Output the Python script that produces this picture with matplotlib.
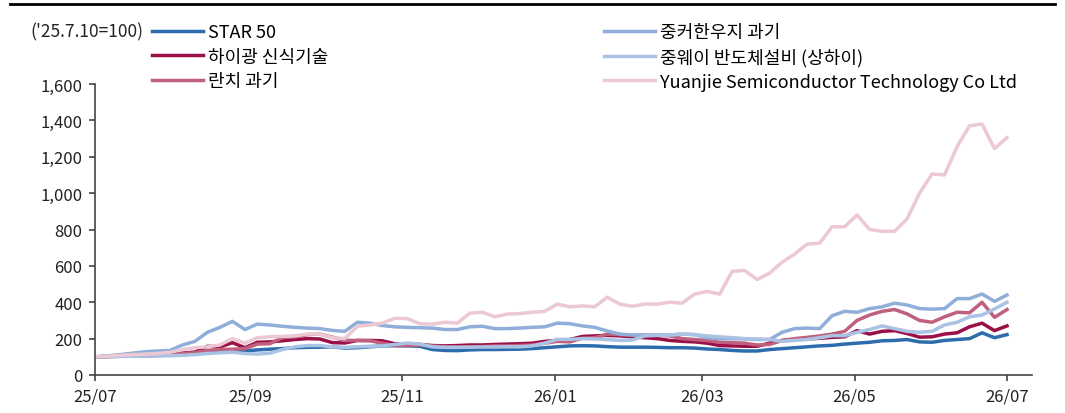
import numpy as np
import matplotlib
matplotlib.use('Agg')
import matplotlib.pyplot as plt
import matplotlib.dates as mdates
from matplotlib.lines import Line2D

plt.rcParams['font.family'] = ['Noto Sans CJK KR', 'DejaVu Sans']

# 5-day sampling from 2025-07-10 (=100) to 2026-07-10
dates = np.arange(np.datetime64('2025-07-10'), np.datetime64('2026-07-11'), np.timedelta64(5, 'D'))

star50 = [100, 102, 104, 106, 108, 112, 115, 118, 120, 122, 128, 130, 132, 138, 142, 145, 150, 152, 153, 155,
          148, 150, 155, 160, 161, 160, 158, 140, 135, 134, 138, 140, 140, 141, 142, 145, 150, 155, 160, 161,
          160, 156, 153, 153, 153, 152, 150, 150, 148, 143, 140, 135, 132, 132, 140, 145, 150, 155, 160, 163,
          170, 175, 180, 188, 190, 195, 182, 180, 190, 195, 200, 232, 205, 222]
haiguang = [100, 102, 104, 105, 106, 108, 110, 120, 126, 158, 154, 178, 150, 180, 182, 188, 195, 200, 198, 178,
            176, 190, 190, 188, 172, 170, 168, 162, 160, 162, 165, 165, 168, 170, 172, 175, 185, 190, 195, 212,
            215, 218, 215, 210, 205, 200, 190, 185, 182, 175, 162, 160, 158, 158, 175, 190, 195, 198, 202, 207,
            210, 244, 225, 240, 244, 228, 208, 210, 225, 232, 265, 285, 244, 270]
lanqi = [100, 101, 103, 104, 105, 107, 110, 118, 122, 135, 140, 142, 145, 170, 172, 205, 210, 222, 225, 208,
         190, 190, 188, 175, 162, 162, 165, 160, 155, 154, 155, 156, 160, 160, 162, 165, 175, 185, 182, 202,
         205, 225, 222, 218, 218, 218, 215, 200, 195, 190, 180, 178, 175, 165, 168, 190, 200, 207, 215, 225,
         240, 300, 330, 350, 360, 336, 300, 290, 320, 345, 342, 400, 317, 360]
zhongke = [100, 105, 112, 120, 128, 132, 135, 165, 185, 235, 262, 295, 250, 280, 275, 268, 262, 258, 255, 245,
           240, 290, 285, 272, 265, 262, 260, 258, 250, 250, 265, 268, 255, 255, 258, 262, 265, 285, 282, 270,
           262, 242, 225, 220, 220, 220, 220, 225, 222, 205, 200, 200, 198, 195, 195, 235, 255, 258, 255, 326,
           350, 345, 365, 375, 395, 385, 365, 362, 365, 420, 420, 445, 405, 440]
amec = [100, 100, 102, 103, 104, 105, 106, 108, 112, 118, 122, 125, 118, 115, 120, 140, 155, 162, 162, 155,
        152, 155, 158, 160, 168, 176, 170, 155, 152, 152, 153, 154, 154, 155, 155, 160, 175, 196, 196, 200,
        198, 195, 190, 192, 215, 218, 220, 225, 222, 215, 210, 205, 200, 198, 196, 185, 190, 195, 205, 216,
        216, 235, 250, 270, 255, 240, 235, 240, 275, 290, 320, 330, 363, 400]
yuanjie = [100, 103, 108, 112, 115, 118, 125, 140, 150, 155, 165, 200, 175, 205, 210, 212, 215, 225, 225, 205,
           200, 268, 275, 285, 312, 310, 282, 280, 290, 285, 340, 345, 320, 335, 338, 345, 350, 390, 375, 380,
           375, 428, 390, 378, 390, 390, 400, 395, 445, 460, 445, 570, 575, 525, 560, 620, 665, 720, 725, 815,
           815, 880, 800, 790, 790, 858, 1000, 1105, 1100, 1255, 1370, 1380, 1245, 1305]

labels = ['STAR 50', '하이광 신식기술', '란치 과기', '중커한우지 과기', '중웨이 반도체설비 (상하이)',
          'Yuanjie Semiconductor Technology Co Ltd']
colors = ['#2E6DAD', '#9B1048', '#C0607F', '#8FAEDA', '#AAC3E4', '#EBC8D3']
series = [star50, haiguang, lanqi, zhongke, amec, yuanjie]

fig = plt.figure(figsize=(10.65, 4.14), dpi=100)
ax = fig.add_axes([95 / 1065, 38 / 414, 937 / 1065, 291 / 414])

for s, lab, c in zip(series, labels, colors):
    ax.plot(dates, s, color=c, lw=2.5, label=lab, solid_joinstyle='round')

ax.set_ylim(0, 1600)
ax.set_yticks(range(0, 1601, 200))
ax.yaxis.set_major_formatter(matplotlib.ticker.FuncFormatter(lambda v, p: f'{int(v):,}'))
ax.set_xlim(np.datetime64('2025-07-10'), np.datetime64('2026-07-20'))
xt = [np.datetime64(d) for d in ['2025-07-10', '2025-09-10', '2025-11-10', '2026-01-10',
                                 '2026-03-10', '2026-05-10', '2026-07-10']]
ax.set_xticks(xt)
ax.xaxis.set_major_formatter(mdates.DateFormatter('%y/%m'))

for side in ['top', 'right']:
    ax.spines[side].set_visible(False)
for side in ['left', 'bottom']:
    ax.spines[side].set_color('#444444')
    ax.spines[side].set_linewidth(1.2)
ax.tick_params(axis='both', direction='out', length=4, width=1.2, color='#444444',
               labelsize=12, labelcolor='#222222', pad=5)

fig.legend(loc='upper left', bbox_to_anchor=(152 / 1065, 1 - 24 / 414), ncol=2, frameon=False,
           fontsize=13, handlelength=2.8, handletextpad=0.28, columnspacing=15.3,
           labelspacing=0.36, borderpad=0, borderaxespad=0)

fig.text(30 / 1065, 1 - 32 / 414, "('25.7.10=100)", fontsize=12.5, va='center', color='#222222')
fig.add_artist(Line2D([10 / 1065, 1055 / 1065], [1 - 5 / 414, 1 - 5 / 414], color='black', lw=2))

fig.savefig('out.png', dpi=100)
